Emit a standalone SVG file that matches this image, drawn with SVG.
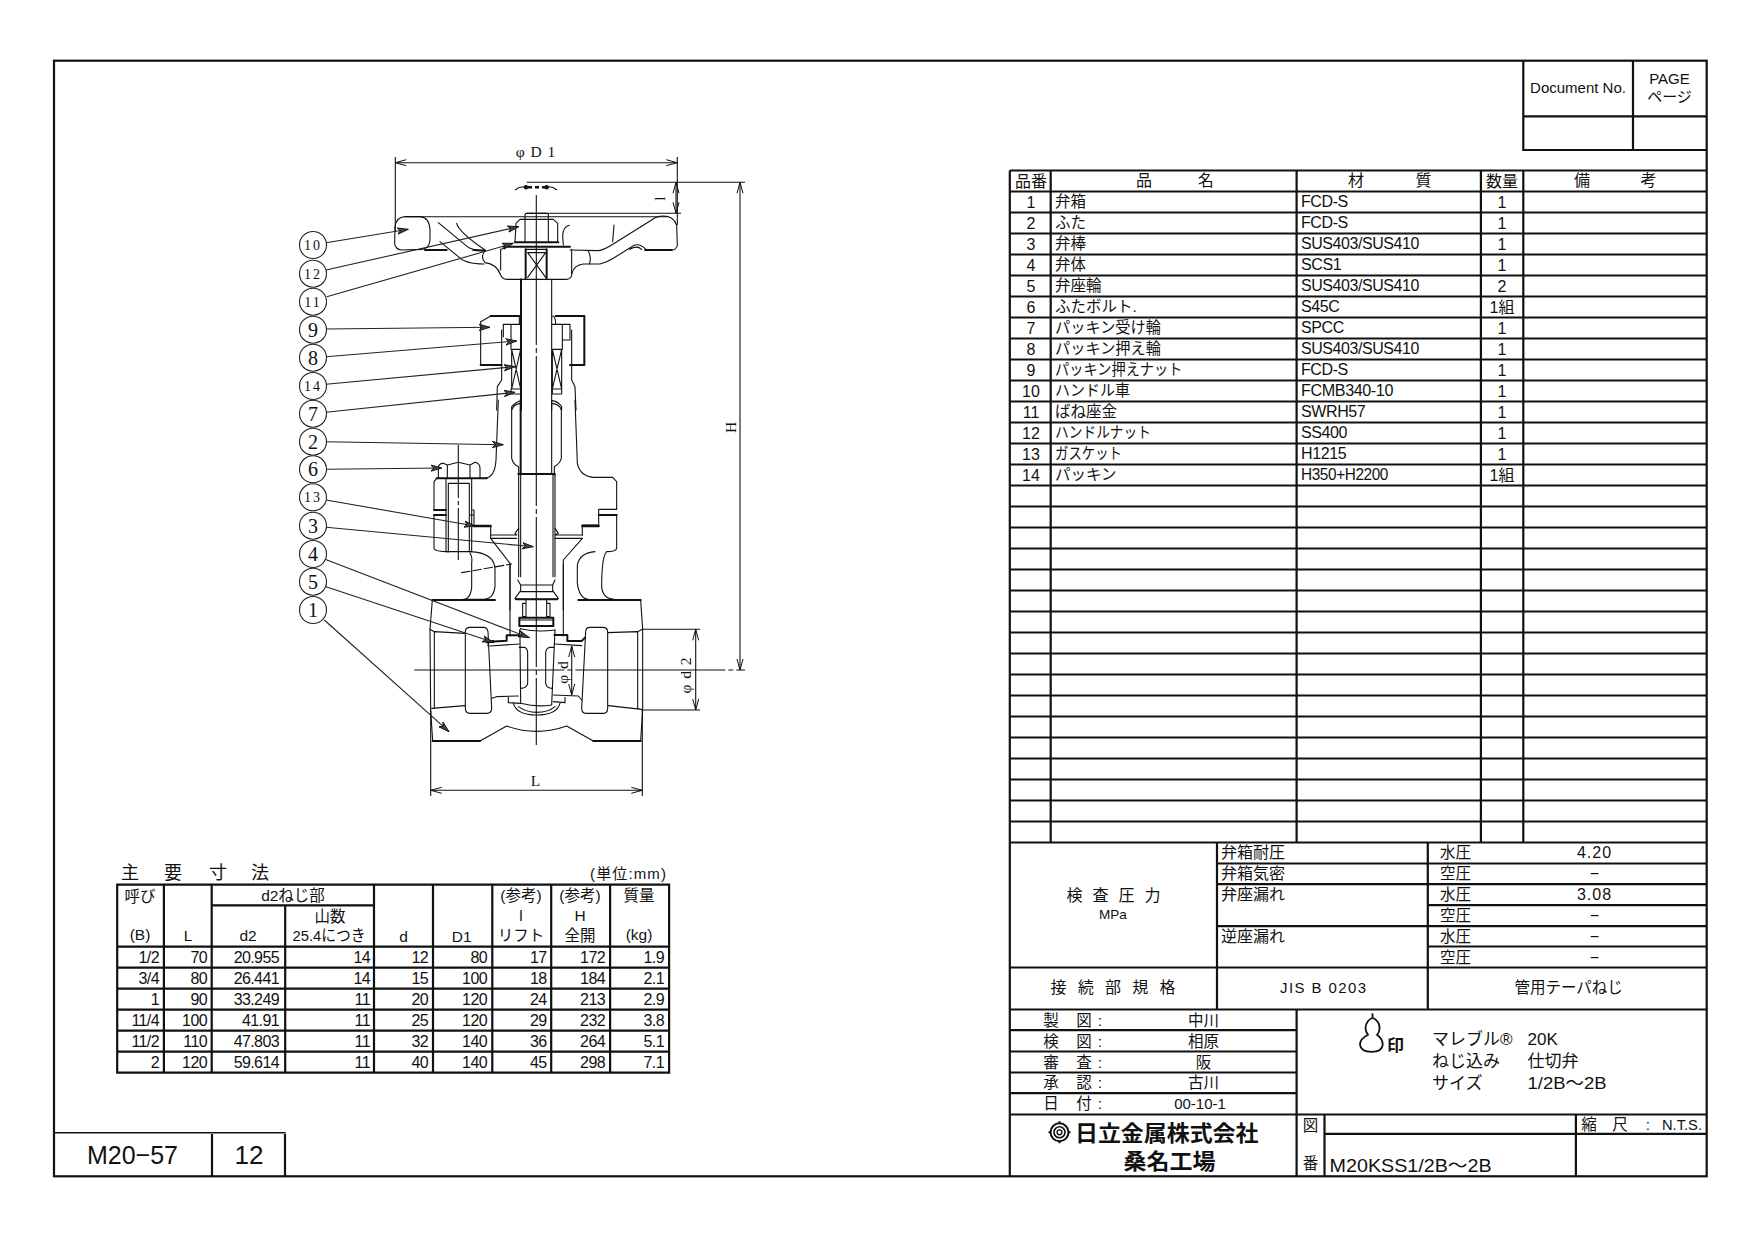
<svg xmlns="http://www.w3.org/2000/svg" width="1755" height="1241" viewBox="0 0 1755 1241">
<style>
text{font-family:"Liberation Sans","Noto Sans CJK JP",sans-serif;fill:#111}
.n{font-size:15.5px}.m{text-anchor:middle}.e{text-anchor:end}
.d{font-size:16px;letter-spacing:-.6px;text-anchor:end}
.q{font-size:16px;text-anchor:middle}
.s{font-size:15px}
.v{font-size:16px;letter-spacing:-.4px}
.r{font-family:"Liberation Serif",serif;text-anchor:middle;font-size:15.5px;letter-spacing:1px}
.b{font-family:"Liberation Serif",serif;text-anchor:middle}
.tb{fill:none;stroke:#111;stroke-width:2.2}
.tn{fill:none;stroke:#111;stroke-width:1.4}
.l{fill:none;stroke:#111;stroke-width:3.3;stroke-linejoin:round;stroke-linecap:round}
.h{fill:none;stroke:#111;stroke-width:6;stroke-linejoin:round;stroke-linecap:round}
.t{fill:none;stroke:#111;stroke-width:1.1}
.c{fill:none;stroke:#111;stroke-width:1.1;stroke-dasharray:150 3 5 3}
.ld{fill:none;stroke:#222;stroke-width:1.1;marker-end:url(#al)}
.dm{fill:none;stroke:#111;stroke-width:1.1;marker-start:url(#as);marker-end:url(#ar)}
.bc{fill:#fff;stroke:#222;stroke-width:1.1}
</style>
<defs>
<marker id="al" markerUnits="userSpaceOnUse" markerWidth="14" markerHeight="10" refX="11" refY="4" orient="auto"><path d="M0 .8L11 4L0 7.2L3 4Z" fill="#444" stroke="#111" stroke-width=".9"/></marker>
<marker id="ar" markerUnits="userSpaceOnUse" markerWidth="14" markerHeight="10" refX="11" refY="4" orient="auto"><path d="M0 1L11 4L0 7" fill="none" stroke="#111" stroke-width="1"/></marker>
<marker id="as" markerUnits="userSpaceOnUse" markerWidth="14" markerHeight="10" refX="0" refY="4" orient="auto"><path d="M11 1L0 4L11 7" fill="none" stroke="#111" stroke-width="1"/></marker>
</defs>
<rect width="1755" height="1241" fill="#fff"/>

<g id="frame">
<rect x="54" y="60.7" width="1652.7" height="1115.6" class="tb"/>
<path class="tn" d="M54 1132.7H285.7"/>
<path class="tb" d="M212 1134V1176M285 1134V1176"/>
<text x="132.5" y="1164" class="m" font-size="26" textLength="91" lengthAdjust="spacingAndGlyphs">M20−57</text>
<text x="249" y="1164" class="m" font-size="26">12</text>
</g>

<g id="valve-section">
<g transform="translate(390 190) scale(.33333)">
<path class="l" d="M15 110Q18 82 45 80L90 80Q118 82 120 120L120 150Q118 176 95 178L35 180Q16 178 14 160Z"/>
<path class="h" d="M105 180H170M250 180L285 182"/>
<path class="l" d="M145 98L232 170Q245 181 285 182M200 100Q205 125 285 180M150 155L205 200Q225 222 282 222"/>
<path class="l" d="M285 183Q270 200 285 218Q320 222 332 255Q338 268 350 268L530 268Q545 268 546 250Q552 225 580 222L598 222Q605 205 595 183"/>
<path class="l" d="M332 178V240M545 178V250M345 175L332 178M540 180L625 182Q640 180 660 168L785 90Q800 78 820 78Q850 78 860 105L862 165Q860 180 845 180"/>
<path class="h" d="M765 180H845"/>
<path class="l" d="M598 222L630 222Q650 218 670 205L725 170Q745 155 770 180M720 178Q740 165 755 178"/>
<path class="l" d="M538 106Q518 110 518 140L520 165M672 105L668 155"/>
<path class="h" d="M340 170H540M375 157H505"/>
<path class="l" d="M375 157L378 100L390 88H490L503 100L503 157M405 88V157M475 88V157M405 88V74Q405 70 410 70H470Q475 70 475 74V88"/>
<path class="h" d="M407 178V268M470 178V268"/>
<path class="l" d="M407 178H470M413 188H467M413 188L467 262M467 188L413 262"/>
<path class="h" d="M393 268V660"/>
<path class="l" d="M485 268V660"/>
<path class="h" d="M302 378H388M497 378H583V525H540M272 525H335"/>
<path class="l" d="M272 395L302 378M272 395V525M388 378V403M487 378Q497 378 497 403"/>
<path class="l" d="M340 403H393M485 403H540M340 403V420M363 403V478M517 403V450H540V403M335 420V570L322 590L320 660M545 420V570L555 590L558 660M340 420V440M517 450V478"/>
<path class="l" d="M365 478H392V597H365ZM365 478L392 597M392 478L365 597M487 478H515V597H487ZM487 478L515 597M515 478L487 597M363 597V612H393M487 597V612H515V597"/>
<path class="l" d="M393 632Q378 635 365 650V660M487 632Q505 635 515 650V660"/>
</g>
<g transform="translate(420 400) scale(.33333)">
<path class="l" d="M302 10Q280 13 275 30L275 175Q280 195 296 200V225M395 10Q420 13 424 30L424 175Q420 190 403 200V225"/>
<path class="h" d="M302 0V222M295 222H405"/>
<path class="l" d="M395 0V222"/>
<path class="l" d="M296 225V530M302 225V530M399 225V530M405 225V530"/>
<path class="l" d="M235 0L228 180Q225 232 195 235M465 0L472 190Q480 228 520 232H578L590 245V328H536V375H487V405M487 415L430 480V630"/>
<path class="h" d="M536 345H590M50 235H200M42 345H78M42 330H78"/>
<path class="l" d="M590 345V445Q588 455 560 455Q545 470 545 560Q548 596 582 598"/>
<path class="l" d="M525 455Q480 458 472 495V550Q478 595 505 598"/>
<path class="h" d="M487 378H536M160 378H212" style="stroke-width:7"/>
<path class="l" d="M42 245V328M42 345V445Q45 455 85 455M42 245L50 235"/>
<path class="l" d="M150 455Q225 458 225 510V560Q220 598 190 598H130M150 460Q158 470 155 490V565Q150 598 130 598"/>
<path class="l" d="M55 235V205Q55 190 70 190L82 195L115 187L150 195L165 187Q180 190 180 205V235M82 195V235M150 195V235"/>
<path class="l" d="M78 235V455M78 455H155M155 235V455"/>
<path class="l" d="M85 250V455M148 250V455M85 250H148M155 330H162V375M148 345H162"/>
<path class="l" d="M212 378V405H290M212 415H290M212 405V415M290 405L285 400L296 385M405 405H487M405 415H487M405 385L415 400L405 405M212 415L270 490V630"/>
<path class="l" stroke-dasharray="26 8" d="M125 518L275 492"/>
</g>
<g transform="translate(280 440) scale(.33333)">
<path class="l" d="M713 420L722 435V452L705 475L710 478H830L835 475L818 452V435L825 420M722 435H818M722 455H818"/>
<path class="h" d="M708 478H832"/>
<path class="l" d="M728 490H738V530H728ZM800 490H810V530H800ZM738 478V530M800 478V530"/>
<path class="h" d="M718 533H820V558H718Z"/>
<path class="l" d="M718 540H820M722 566Q770 578 825 570"/>
<path class="l" d="M720 590L722 790Q770 802 815 795L825 570M720 590Q716 570 722 566"/>
<path class="l" d="M718 622H733Q743 625 743 640V730Q740 745 722 745M822 622H810Q797 625 797 640V730Q800 745 817 745"/>
<path class="h" d="M457 480H645M895 480H1082M458 903H600M940 903H1082"/>
<path class="l" d="M457 480L450 568L452 810L458 903M600 903L680 858Q770 890 860 858L940 903M1082 903L1088 810V568L1082 480"/>
<path class="l" d="M450 568L463 575L555 580M463 575V805M455 805L555 797M1087 568L1073 575L983 578M1073 575V805M1085 808L985 797M1073 805L1087 810"/>
<path class="l" d="M556 575Q556 562 570 562H610Q622 562 624 575L635 805Q635 820 620 820H570Q556 820 556 805ZM917 575Q917 562 930 562H968Q983 562 983 575V805Q983 820 970 820H918Q905 820 905 805L917 575"/>
<path class="l" d="M630 618L718 612M635 775L650 770L715 768M685 770V788L722 790M624 605V618"/>
<path class="h" d="M630 605L680 602V586H718M823 585H862V603H905L915 593"/>
<path class="l" d="M825 612L905 617M820 765L895 768L905 780M820 785L855 788V772"/>
<path class="l" d="M700 790Q710 825 770 825Q830 825 840 790M715 800Q740 817 770 817Q805 817 825 800"/>
<path class="l" d="M690 372V588M850 372V588"/>
<path class="h" d="M620 605H640" style="stroke-width:8"/>
</g>
<path class="c" d="M536.3 195V745"/>
<path class="c" d="M414.3 670H745"/>
<path class="t" stroke-dasharray="53 3 4 3" d="M458.3 445V560"/>
<path class="tn" stroke-dasharray="4 3" d="M528 187.3H546" style="stroke-width:2.4"/>
<circle cx="526" cy="187.3" r="2.2" fill="#111"/><circle cx="546.7" cy="187.3" r="2.2" fill="#111"/>
<path class="t" d="M515 190Q520 186 526 187M557 190Q552 186 547 187"/>
</g>

<g id="connectors">
<path class="t" d="M395.3 157V232M677.3 157V225M526.7 182.3H745M526.7 213.3H681M405 216.7H668M430.7 710V796M642.3 710V796M642.3 629.3H700M642.3 710H700"/>
<path class="dm" d="M395.3 162.7H677.3"/>
<path class="dm" d="M676 182.3V213.3"/>
<path class="dm" d="M740 182.3V670"/>
<path class="dm" d="M695.7 629.3V710"/>
<path class="dm" d="M571.7 646V695"/>
<path class="dm" d="M430.7 790.3H642.3"/>
<path class="ld" d="M326 242.7L408.3 229.3"/>
<path class="ld" d="M326 270L518.7 226.7"/>
<path class="ld" d="M326.7 296.7L513.3 243.3"/>
<path class="ld" d="M326 329L490 327.3"/>
<path class="ld" d="M326 356.7L516.7 341"/>
<path class="ld" d="M326 384.3L515 366.7"/>
<path class="ld" d="M326 412.3L515 392.3"/>
<path class="ld" d="M326 441.7L503.3 444.7"/>
<path class="ld" d="M326 469.3L441.7 468"/>
<path class="ld" d="M326 500L475 526"/>
<path class="ld" d="M326 527.3L533.3 546.7"/>
<path class="ld" d="M325 559.3L529.3 637.7"/>
<path class="ld" d="M326 586.7L493.3 642.3"/>
<path class="ld" d="M324.3 620L449 731.7"/>
</g>

<g id="dim-labels">
<text x="536" y="157" class="r">φ D 1</text>
<text transform="translate(665 198) rotate(-90)" class="r">l</text>
<text transform="translate(736 427) rotate(-90)" class="r">H</text>
<text transform="translate(568 672) rotate(-90)" class="r">φ d</text>
<text transform="translate(691 675) rotate(-90)" class="r">φ d 2</text>
<text x="536" y="786" class="r">L</text>
</g>

<g id="n10"><circle cx="313" cy="245" r="13.5" class="bc"/><text x="313" y="250" class="b" font-size="14" letter-spacing="2">10</text></g>
<g id="n12"><circle cx="313" cy="273.7" r="13.5" class="bc"/><text x="313" y="278.7" class="b" font-size="14" letter-spacing="2">12</text></g>
<g id="n11"><circle cx="313" cy="301.7" r="13.5" class="bc"/><text x="313" y="306.7" class="b" font-size="14" letter-spacing="2">11</text></g>
<g id="n9"><circle cx="313" cy="329.7" r="13.5" class="bc"/><text x="313" y="336.7" class="b" font-size="20">9</text></g>
<g id="n8"><circle cx="313" cy="357.7" r="13.5" class="bc"/><text x="313" y="364.7" class="b" font-size="20">8</text></g>
<g id="n14"><circle cx="313" cy="386" r="13.5" class="bc"/><text x="313" y="391" class="b" font-size="14" letter-spacing="2">14</text></g>
<g id="n7"><circle cx="313" cy="413.7" r="13.5" class="bc"/><text x="313" y="420.7" class="b" font-size="20">7</text></g>
<g id="n2"><circle cx="313" cy="441.7" r="13.5" class="bc"/><text x="313" y="448.7" class="b" font-size="20">2</text></g>
<g id="n6"><circle cx="313" cy="469.3" r="13.5" class="bc"/><text x="313" y="476.3" class="b" font-size="20">6</text></g>
<g id="n13"><circle cx="313" cy="497.3" r="13.5" class="bc"/><text x="313" y="502.3" class="b" font-size="14" letter-spacing="2">13</text></g>
<g id="n3"><circle cx="313" cy="525.7" r="13.5" class="bc"/><text x="313" y="532.7" class="b" font-size="20">3</text></g>
<g id="n4"><circle cx="313" cy="554" r="13.5" class="bc"/><text x="313" y="561" class="b" font-size="20">4</text></g>
<g id="n5"><circle cx="313" cy="581.7" r="13.5" class="bc"/><text x="313" y="588.7" class="b" font-size="20">5</text></g>
<g id="n1"><circle cx="313" cy="610" r="13.5" class="bc"/><text x="313" y="617" class="b" font-size="20">1</text></g>

<g id="dimension-table" transform="translate(0 .7)">
<text x="121" y="878" font-size="18">主</text><text x="164" y="878" font-size="18">要</text><text x="209" y="878" font-size="18">寸</text><text x="251" y="878" font-size="18">法</text>
<text x="666" y="878" class="e" font-size="15" textLength="76">(単位:mm)</text>
<path class="tb" d="M117.2 884H669.1V1072H117.2ZM211.7 904.7H374M117.2 946H669.1M117.2 967H669.1M117.2 988H669.1M117.2 1009H669.1M117.2 1030H669.1M117.2 1051H669.1M163.9 884V1072M211.7 884V1072M285.2 904.7V1072M374 884V1072M433 884V1072M492.3 884V1072M551.2 884V1072M610.1 884V1072"/>
<text x="140" y="901" class="n m">呼び</text><text x="293" y="900" class="n m">d2ねじ部</text><text x="521" y="900" class="n m">(参考)</text><text x="580" y="900" class="n m">(参考)</text><text x="639" y="900" class="n m">質量</text>
<text x="330" y="921" class="n m">山数</text><text x="521" y="920" class="n m">l</text><text x="580" y="920" class="n m">H</text>
<text x="140" y="939" class="n m">(B)</text><text x="188" y="940" class="n m">L</text><text x="248" y="940" class="n m">d2</text><text x="329" y="940" class="n m" textLength="73" lengthAdjust="spacingAndGlyphs">25.4につき</text><text x="403.5" y="941" class="n m">d</text><text x="461.7" y="941" class="n m">D1</text><text x="521" y="940" class="n m">リフト</text><text x="580" y="940" class="n m">全開</text><text x="639" y="939" class="n m">(kg)</text>
<g>
<text x="159" y="962" class="d">1/2</text><text x="207" y="962" class="d">70</text><text x="279" y="962" class="d">20.955</text><text x="370" y="962" class="d">14</text><text x="428" y="962" class="d">12</text><text x="487" y="962" class="d">80</text><text x="546.6" y="962" class="d">17</text><text x="605" y="962" class="d">172</text><text x="664" y="962" class="d">1.9</text>
<text x="159" y="983" class="d">3/4</text><text x="207" y="983" class="d">80</text><text x="279" y="983" class="d">26.441</text><text x="370" y="983" class="d">14</text><text x="428" y="983" class="d">15</text><text x="487" y="983" class="d">100</text><text x="546.6" y="983" class="d">18</text><text x="605" y="983" class="d">184</text><text x="664" y="983" class="d">2.1</text>
<text x="159" y="1004" class="d">1</text><text x="207" y="1004" class="d">90</text><text x="279" y="1004" class="d">33.249</text><text x="370" y="1004" class="d">11</text><text x="428" y="1004" class="d">20</text><text x="487" y="1004" class="d">120</text><text x="546.6" y="1004" class="d">24</text><text x="605" y="1004" class="d">213</text><text x="664" y="1004" class="d">2.9</text>
<text x="159" y="1025" class="d">11/4</text><text x="207" y="1025" class="d">100</text><text x="279" y="1025" class="d">41.91</text><text x="370" y="1025" class="d">11</text><text x="428" y="1025" class="d">25</text><text x="487" y="1025" class="d">120</text><text x="546.6" y="1025" class="d">29</text><text x="605" y="1025" class="d">232</text><text x="664" y="1025" class="d">3.8</text>
<text x="159" y="1046" class="d">11/2</text><text x="207" y="1046" class="d">110</text><text x="279" y="1046" class="d">47.803</text><text x="370" y="1046" class="d">11</text><text x="428" y="1046" class="d">32</text><text x="487" y="1046" class="d">140</text><text x="546.6" y="1046" class="d">36</text><text x="605" y="1046" class="d">264</text><text x="664" y="1046" class="d">5.1</text>
<text x="159" y="1067" class="d">2</text><text x="207" y="1067" class="d">120</text><text x="279" y="1067" class="d">59.614</text><text x="370" y="1067" class="d">11</text><text x="428" y="1067" class="d">40</text><text x="487" y="1067" class="d">140</text><text x="546.6" y="1067" class="d">45</text><text x="605" y="1067" class="d">298</text><text x="664" y="1067" class="d">7.1</text>
</g>
</g>

<g id="doc-box">
<path class="tb" d="M1523.3 60.7V150H1706.7M1523.3 116.3H1706.7M1633 60.7V150"/>
<text x="1578" y="93" class="s m">Document No.</text>
<text x="1669.5" y="84" class="s m">PAGE</text>
<text x="1669.5" y="102" class="s m">ページ</text>
</g>

<g id="parts-table" transform="translate(0 .5)">
<path class="tb" d="M1009.8 170H1706.7M1009.8 191H1706.7M1009.8 212H1706.7M1009.8 233H1706.7M1009.8 254H1706.7M1009.8 275H1706.7M1009.8 296H1706.7M1009.8 317H1706.7M1009.8 338H1706.7M1009.8 359H1706.7M1009.8 380H1706.7M1009.8 401H1706.7M1009.8 422H1706.7M1009.8 443H1706.7M1009.8 464H1706.7M1009.8 485H1706.7M1009.8 506H1706.7M1009.8 527H1706.7M1009.8 548H1706.7M1009.8 569H1706.7M1009.8 590H1706.7M1009.8 611H1706.7M1009.8 632H1706.7M1009.8 653H1706.7M1009.8 674H1706.7M1009.8 695H1706.7M1009.8 716H1706.7M1009.8 737H1706.7M1009.8 758H1706.7M1009.8 779H1706.7M1009.8 800H1706.7M1009.8 821H1706.7M1009.8 842H1706.7M1009.8 170V1175.7M1050.7 170V842M1296.6 170V842M1480.9 170V842M1523.3 170V842"/>
<text x="1031" y="186" class="q">品番</text><text x="1144" y="185" class="q">品</text><text x="1205.8" y="185" class="q">名</text><text x="1356" y="185" class="q">材</text><text x="1423.6" y="185" class="q">質</text><text x="1502" y="186" class="q">数量</text><text x="1582" y="185" class="q">備</text><text x="1648.5" y="185" class="q">考</text>
<g class="rows">
<text x="1031" y="207" class="q">1</text><text x="1055" y="206" class="n">弁箱</text><text x="1301" y="206" class="v">FCD-S</text><text x="1502" y="207" class="q">1</text>
<text x="1031" y="228" class="q">2</text><text x="1055" y="227" class="n">ふた</text><text x="1301" y="227" class="v">FCD-S</text><text x="1502" y="228" class="q">1</text>
<text x="1031" y="249" class="q">3</text><text x="1055" y="248" class="n">弁棒</text><text x="1301" y="248" class="v" textLength="118" lengthAdjust="spacingAndGlyphs">SUS403/SUS410</text><text x="1502" y="249" class="q">1</text>
<text x="1031" y="270" class="q">4</text><text x="1055" y="269" class="n">弁体</text><text x="1301" y="269" class="v">SCS1</text><text x="1502" y="270" class="q">1</text>
<text x="1031" y="291" class="q">5</text><text x="1055" y="290" class="n">弁座輪</text><text x="1301" y="290" class="v" textLength="118" lengthAdjust="spacingAndGlyphs">SUS403/SUS410</text><text x="1502" y="291" class="q">2</text>
<text x="1031" y="312" class="q">6</text><text x="1055" y="311" class="n">ふたボルト.</text><text x="1301" y="311" class="v">S45C</text><text x="1502" y="312" class="q">1組</text>
<text x="1031" y="333" class="q">7</text><text x="1055" y="332" class="n" textLength="106" lengthAdjust="spacingAndGlyphs">パッキン受け輪</text><text x="1301" y="332" class="v">SPCC</text><text x="1502" y="333" class="q">1</text>
<text x="1031" y="354" class="q">8</text><text x="1055" y="353" class="n" textLength="106" lengthAdjust="spacingAndGlyphs">パッキン押え輪</text><text x="1301" y="353" class="v" textLength="118" lengthAdjust="spacingAndGlyphs">SUS403/SUS410</text><text x="1502" y="354" class="q">1</text>
<text x="1031" y="375" class="q">9</text><text x="1055" y="374" class="n" textLength="127.5" lengthAdjust="spacingAndGlyphs">パッキン押えナット</text><text x="1301" y="374" class="v">FCD-S</text><text x="1502" y="375" class="q">1</text>
<text x="1031" y="396" class="q">10</text><text x="1055" y="395" class="n" textLength="75" lengthAdjust="spacingAndGlyphs">ハンドル車</text><text x="1301" y="395" class="v" textLength="92" lengthAdjust="spacingAndGlyphs">FCMB340-10</text><text x="1502" y="396" class="q">1</text>
<text x="1031" y="417" class="q">11</text><text x="1055" y="416" class="n">ばね座金</text><text x="1301" y="416" class="v">SWRH57</text><text x="1502" y="417" class="q">1</text>
<text x="1031" y="438" class="q">12</text><text x="1055" y="437" class="n" textLength="96" lengthAdjust="spacingAndGlyphs">ハンドルナット</text><text x="1301" y="437" class="v">SS400</text><text x="1502" y="438" class="q">1</text>
<text x="1031" y="459" class="q">13</text><text x="1055" y="458" class="n" textLength="67" lengthAdjust="spacingAndGlyphs">ガスケット</text><text x="1301" y="458" class="v">H1215</text><text x="1502" y="459" class="q">1</text>
<text x="1031" y="480" class="q">14</text><text x="1055" y="479" class="n">パッキン</text><text x="1301" y="479" class="v" textLength="87" lengthAdjust="spacingAndGlyphs">H350+H2200</text><text x="1502" y="480" class="q">1組</text>
</g>
</g>

<g id="inspection" transform="translate(0 .8)">
<path class="tb" d="M1217 842V1008.7M1427.8 842V1008.7M1217 862.7H1706.7M1217 883.3H1706.7M1427.8 904.3H1706.7M1217 925.3H1706.7M1427.8 945.7H1706.7M1009.8 966.7H1706.7M1009.8 1008.7H1706.7"/>
<text x="1113.6" y="900" class="q" textLength="94">検 査 圧 力</text>
<text x="1113" y="918" class="m" font-size="13.5">MPa</text>
<text x="1221" y="857" class="q" style="text-anchor:start">弁箱耐圧</text>
<text x="1221" y="878" class="q" style="text-anchor:start">弁箱気密</text>
<text x="1221" y="899" class="q" style="text-anchor:start">弁座漏れ</text>
<text x="1221" y="941" class="q" style="text-anchor:start">逆座漏れ</text>
<text x="1440" y="857" class="n">水圧</text><text x="1440" y="878" class="n">空圧</text><text x="1440" y="899" class="n">水圧</text><text x="1440" y="920.7" class="n">空圧</text><text x="1440" y="941" class="n">水圧</text><text x="1440" y="962" class="n">空圧</text>
<text x="1594.5" y="857" class="q" letter-spacing="1">4.20</text><text x="1594.5" y="878" class="q">−</text><text x="1594.5" y="899" class="q" letter-spacing="1">3.08</text><text x="1594.5" y="920" class="q">−</text><text x="1594.5" y="941" class="q">−</text><text x="1594.5" y="962" class="q">−</text>
<text x="1113" y="992" class="q" textLength="125">接 続 部 規 格</text>
<text x="1323" y="992" class="s m" textLength="86">JIS  B  0203</text>
<text x="1568.7" y="992" class="n m">管用テーパねじ</text>
</g>

<g id="title-block" transform="translate(0 .8)">
<path class="tb" d="M1009.8 1029.3H1296.6M1009.8 1050.7H1296.6M1009.8 1071.7H1296.6M1009.8 1092.3H1296.6M1009.8 1113.7H1706.7M1296.6 1008.7V1175.5M1324.5 1113.7V1175.5M1324.5 1133H1706.7M1575.9 1113.7V1175.5"/>
<g class="n">
<text x="1051" y="1025" class="n m">製</text><text x="1084" y="1025" class="n m">図</text><text x="1100" y="1025" class="n m">:</text><text x="1203.4" y="1025" class="n m">中川</text>
<text x="1051" y="1046" class="n m">検</text><text x="1084" y="1046" class="n m">図</text><text x="1100" y="1046" class="n m">:</text><text x="1203.4" y="1046" class="n m">相原</text>
<text x="1051" y="1067" class="n m">審</text><text x="1084" y="1067" class="n m">査</text><text x="1100" y="1067" class="n m">:</text><text x="1203.4" y="1067" class="n m">阪</text>
<text x="1051" y="1087.5" class="n m">承</text><text x="1084" y="1087.5" class="n m">認</text><text x="1100" y="1087.5" class="n m">:</text><text x="1203.4" y="1087.5" class="n m">古川</text>
<text x="1051" y="1108" class="n m">日</text><text x="1084" y="1108" class="n m">付</text><text x="1100" y="1108" class="n m">:</text><text x="1200" y="1108" class="s m">00-10-1</text>
</g>
<path d="M1372.5 1012.5V1017Q1366 1020 1365.5 1027Q1365.5 1031 1368 1034Q1360 1038 1360 1044Q1361 1051 1371.5 1051Q1382 1051 1382.7 1044Q1382.7 1038 1377 1034Q1380 1031 1379.5 1026Q1379 1020 1372.5 1017" fill="none" stroke="#111" stroke-width="1.8"/>
<text x="1387" y="1050" font-size="16" font-weight="700" textLength="17" lengthAdjust="spacingAndGlyphs">印</text>
<text x="1432" y="1044.5" font-size="17">マレブル®</text><text x="1527.5" y="1044.5" font-size="17">20K</text>
<text x="1432" y="1066.5" font-size="17">ねじ込み</text><text x="1527.5" y="1066.5" font-size="17">仕切弁</text>
<text x="1432" y="1088" font-size="17">サイズ</text><text x="1527.5" y="1088" font-size="17" textLength="79" lengthAdjust="spacingAndGlyphs">1/2B〜2B</text>
<g fill="none" stroke="#111"><circle cx="1059.5" cy="1131.5" r="9" stroke-width="2"/><circle cx="1059.5" cy="1131.5" r="5.5" stroke-width="1.6"/><circle cx="1059.5" cy="1131.5" r="2.4" stroke-width="1.4"/><path stroke-width="2" d="M1059.5 1120.5V1123M1059.5 1140V1142.5M1048.5 1131.5H1051M1068 1131.5H1070.5"/></g>
<text x="1075" y="1140" font-size="22" font-weight="700" textLength="183.5" lengthAdjust="spacingAndGlyphs">日立金属株式会社</text>
<text x="1169.5" y="1168" class="m" font-size="22" font-weight="700" textLength="92" lengthAdjust="spacingAndGlyphs">桑名工場</text>
<text x="1310.5" y="1130" class="n m">図</text><text x="1310.5" y="1168" class="n m">番</text>
<text x="1329.6" y="1171" font-size="18.5" textLength="162" lengthAdjust="spacingAndGlyphs">M20KSS1/2B〜2B</text>
<text x="1589" y="1129" class="n m">縮</text><text x="1620" y="1129" class="n m">尺</text><text x="1648" y="1129" class="n m">:</text><text x="1682" y="1129" class="m" font-size="15" textLength="40" lengthAdjust="spacingAndGlyphs">N.T.S.</text>
</g>
</svg>
